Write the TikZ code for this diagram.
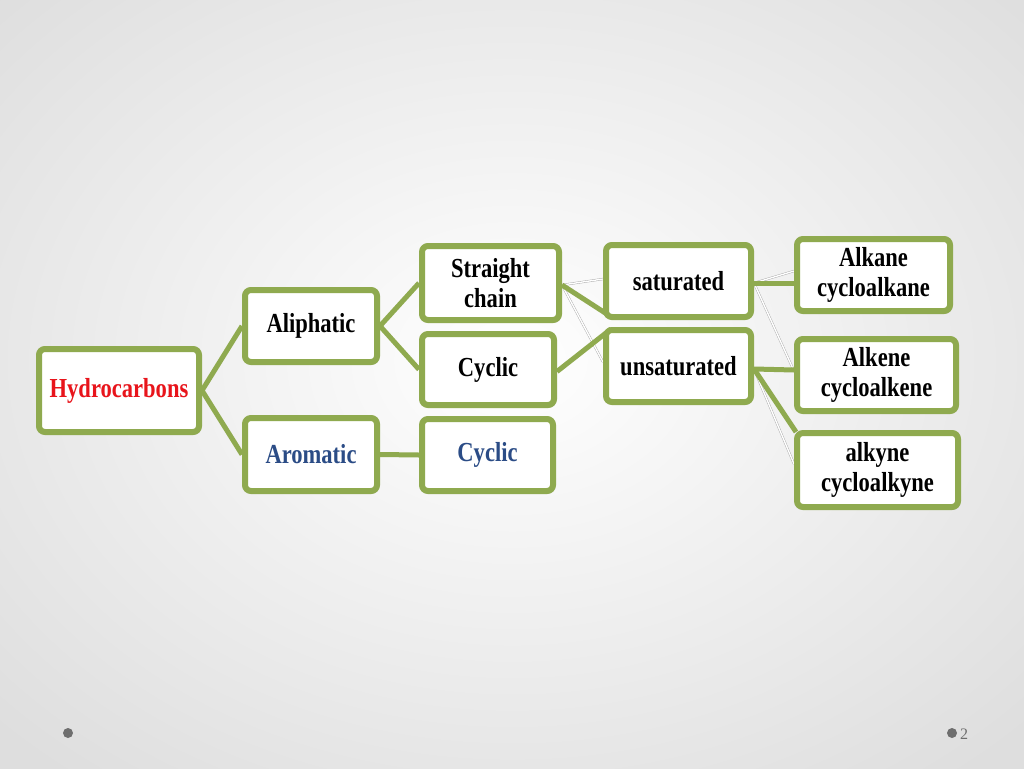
\documentclass[tikz,border=0pt]{standalone}
\usepackage{fontspec}
\setmainfont{Liberation Serif}[FakeStretch=0.82]
\newfontfamily\plainserif{Liberation Serif}
\usetikzlibrary{shadows,calc}
\definecolor{boxgreen}{HTML}{8FAA4F}
\definecolor{hred}{HTML}{E8141B}
\definecolor{aroblue}{HTML}{2B4C86}
\definecolor{dotgray}{HTML}{6E6E6E}
\pgfdeclarelayer{bglayer}
\pgfdeclarelayer{linklayer}
\pgfsetlayers{bglayer,linklayer,main}
\tikzset{
  box/.style={draw=boxgreen, line width=6pt, fill=white, rounded corners=6pt,
    inner sep=0pt, align=center, font=\fontsize{27.5}{30}\selectfont\bfseries,
    drop shadow={shadow xshift=1.5pt, shadow yshift=-2.5pt, opacity=0.35, fill=black!60}},
  link/.style={draw=boxgreen, line width=5pt},
  faint/.style={draw=black!35, line width=0.4pt, double=white, double distance=1.4pt},
}
\begin{document}
\begin{tikzpicture}[x=1pt,y=-1pt]
\useasboundingbox (0,0) rectangle (1024,768);
\begin{pgfonlayer}{bglayer}
\shade[inner color=white, outer color=black!13] (-200,-180) rectangle (1224,900);
\end{pgfonlayer}
% nodes
\node[box, minimum width=160pt, minimum height=83pt, text=hred] (hyd) at (119,390.5) {Hydrocarbons};
\node[box, minimum width=132pt, minimum height=72pt] (ali) at (311,326) {Aliphatic};
\node[box, minimum width=132pt, minimum height=73pt, text=aroblue] (aro) at (311,454.5) {Aromatic};
\node[box, minimum width=137pt, minimum height=74pt] (sc) at (490.5,283) {Straight\\chain};
\node[box, minimum width=132pt, minimum height=71pt] (cyc1) at (488,369.5) {Cyclic};
\node[box, minimum width=131pt, minimum height=72pt, text=aroblue] (cyc2) at (487.5,455) {Cyclic};
\node[box, minimum width=145pt, minimum height=72pt] (sat) at (678.5,281) {saturated};
\node[box, minimum width=145pt, minimum height=72pt] (unsat) at (678.5,366) {unsaturated};
\node[box, minimum width=153pt, minimum height=72pt] (alkane) at (873.5,275) {Alkane\\cycloalkane};
\node[box, minimum width=159pt, minimum height=72pt] (alkene) at (876.5,375) {Alkene\\cycloalkene};
\node[box, minimum width=161pt, minimum height=74pt] (alkyne) at (877.5,470) {alkyne\\cycloalkyne};
% connectors
\begin{pgfonlayer}{linklayer}
\draw[link] (hyd.east) -- (ali.west);
\draw[link] (hyd.east) -- (aro.west);
\draw[link] (ali.east) -- (sc.west);
\draw[link] (ali.east) -- (cyc1.west);
\draw[link] (aro.east) -- (cyc2.west);
\draw[faint] ($(sc.east)+(0,2)$) -- ($(sat.west)+(0,-2)$);
\draw[faint] ($(sc.east)+(0,2)$) -- ($(unsat.west)+(0,-4)$);
\draw[link] ($(sc.east)+(0,2)$) -- ($(sat.south west)+(10,-2)$);
\draw[link] ($(cyc1.east)+(0,2)$) -- ($(unsat.north west)+(8,2)$);
\draw[faint] ($(sat.east)+(0,2)$) -- ($(alkane.west)+(0,-4)$);
\draw[faint] ($(sat.east)+(0,2)$) -- ($(alkene.west)+(0,-4)$);
\draw[link] ($(sat.east)+(0,2)$) -- ($(alkane.west)+(0,8)$);
\draw[faint] ($(unsat.east)+(0,3)$) -- ($(alkyne.west)+(0,-6)$);
\draw[link] ($(unsat.east)+(0,3)$) -- ($(alkene.west)+(0,-5)$);
\draw[link] ($(unsat.east)+(0,3)$) -- ($(alkyne.north west)+(2,2)$);
\end{pgfonlayer}
% footer
\node[circle, fill=dotgray, minimum size=10pt, inner sep=0pt] (dl) at (68,733) {};
\node[circle, fill=dotgray, minimum size=10pt, inner sep=0pt] (dr) at (952,733) {};
\node[text=dotgray, font=\plainserif\fontsize{16}{16}\selectfont, inner sep=0pt] (pg) at (964,734) {2};
\end{tikzpicture}
\end{document}
